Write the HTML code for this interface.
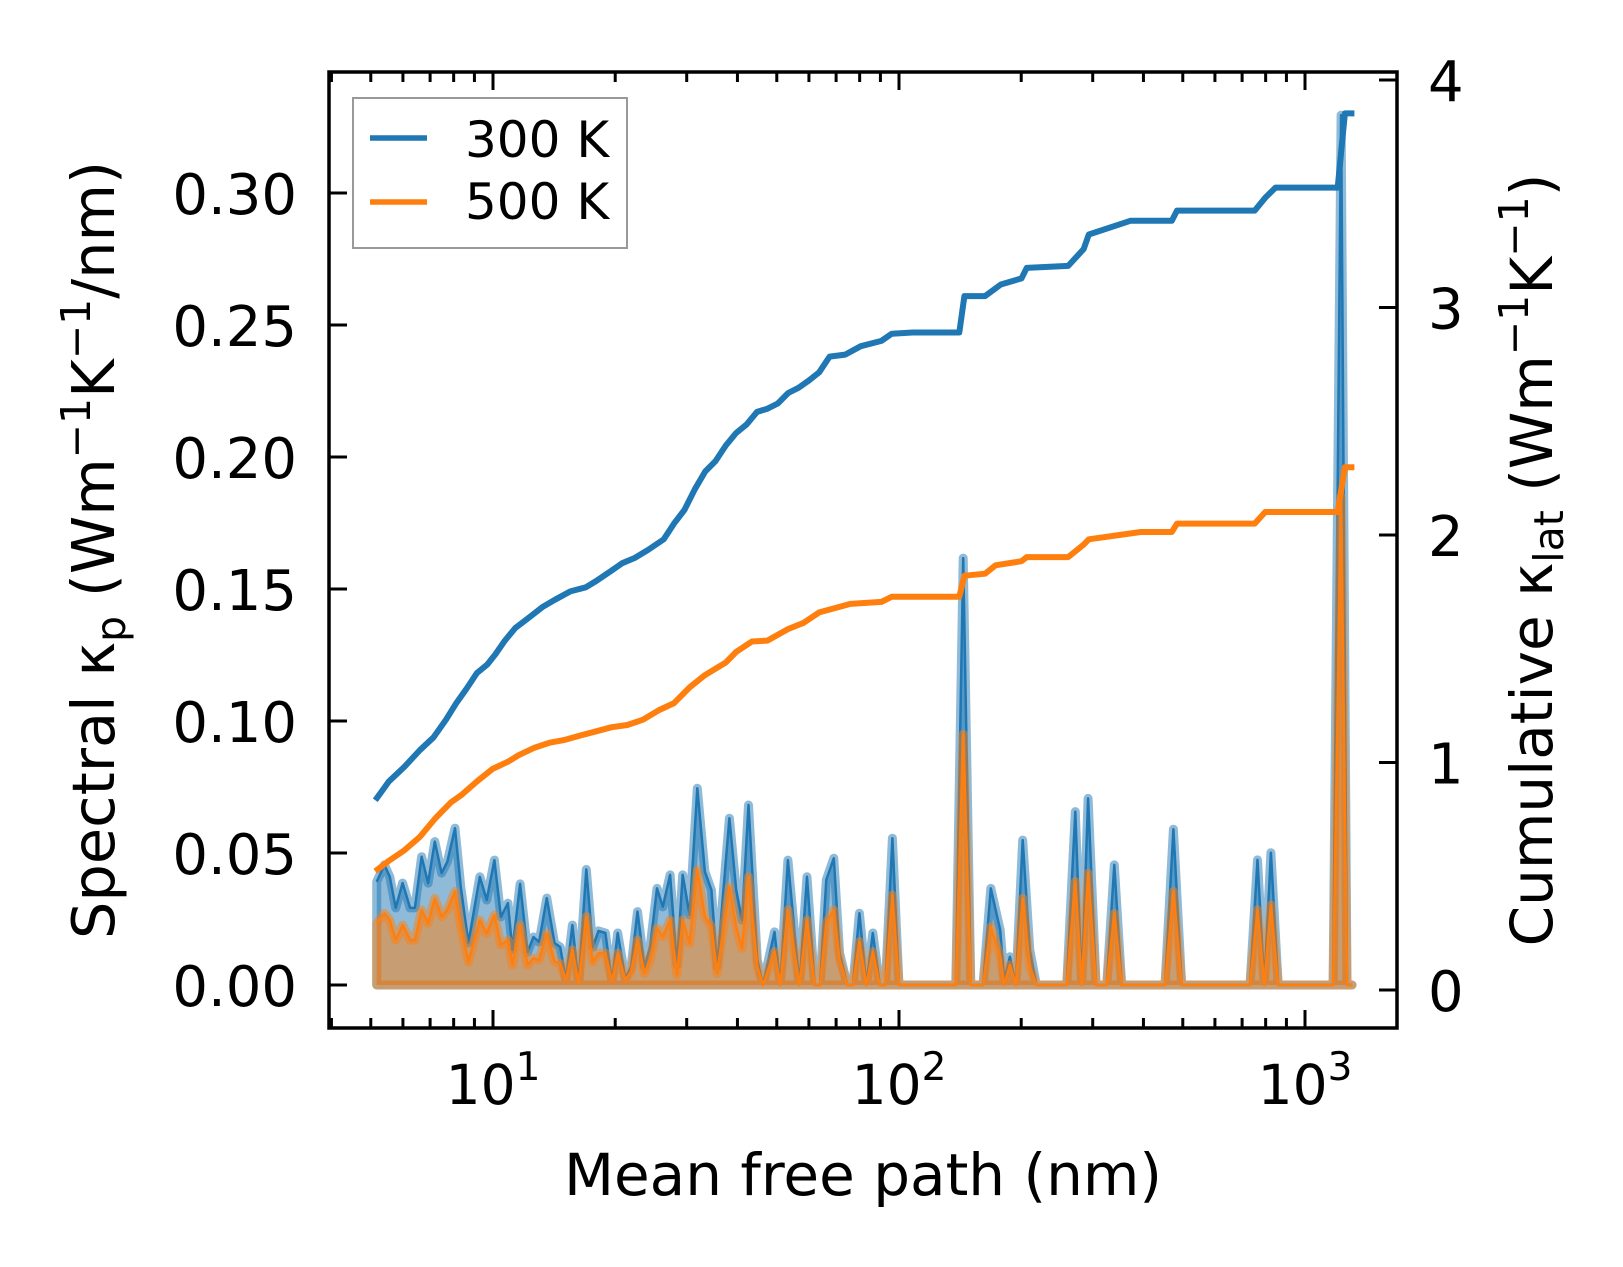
<!DOCTYPE html>
<html><head><meta charset="utf-8"><style>
html,body{margin:0;padding:0;background:#fff;}
svg{display:block;font-family:"DejaVu Sans","Liberation Sans",sans-serif;}
</style></head><body>
<svg id="chart" width="1623" height="1267" viewBox="0 0 1623 1267" xmlns="http://www.w3.org/2000/svg">
<rect width="1623" height="1267" fill="#fff"/>
<g id="plot"></g>
<g id="axes"></g>
</svg>
<script>
// ---- data ----
const specX = [5.17,5.40,5.57,5.76,5.99,6.25,6.42,6.67,6.92,7.19,7.47,7.72,8.06,8.33,8.70,9.28,9.65,10.08,10.46,10.88,11.16,11.66,12.17,12.58,12.99,13.57,14.17,14.64,15.12,15.69,16.25,16.97,17.61,18.19,18.92,19.63,20.28,21.18,21.88,22.70,23.61,24.38,25.35,26.19,27.30,28.38,29.33,30.50,31.85,33.26,34.51,35.65,38.21,39.73,41.05,42.60,44.77,46.25,49.36,51.00,53.26,56.84,59.36,62.0,63.9,66.2,69.1,71.4,74.6,77.0,79.9,83.1,86.2,89.7,92.6,96.3,100,138,143.9,150.3,161,168.3,177.5,181.6,187.6,194,201.7,210,218,258.8,271.8,281.8,292.2,305.8,324.8,339,353.6,452,474,497,732,764,794,824,859,1173,1227,1269,1306];
const spec300 = [0.0391,0.0455,0.0410,0.0292,0.0386,0.0292,0.0292,0.0486,0.0386,0.0543,0.0424,0.0467,0.0594,0.0371,0.0159,0.0410,0.0322,0.0473,0.0258,0.0310,0.0133,0.0383,0.0125,0.0182,0.0163,0.0329,0.0159,0.0144,0.0019,0.0227,0.0006,0.0438,0.0144,0.0205,0.0197,0.0010,0.0197,0.0025,0.0069,0.0278,0.0069,0.0144,0.0366,0.0296,0.0417,0.0076,0.0417,0.0265,0.0745,0.0429,0.0360,0.0069,0.0632,0.0360,0.0246,0.0682,0.0095,0,0.0201,0,0.0473,0,0.0410,0,0,0.0398,0.0480,0.0121,0,0,0.0272,0,0.0197,0,0,0.0556,0,0,0.1617,0,0,0.0366,0.0208,0.0019,0.0107,0,0.0549,0.0133,0,0,0.0657,0,0.0707,0,0,0.0455,0,0,0.0590,0,0,0.0474,0,0.0501,0,0,0.3295,0,0];
const spec500 = [0.0234,0.0271,0.0246,0.0170,0.0227,0.0170,0.0170,0.0284,0.0234,0.0328,0.0259,0.0284,0.0354,0.0220,0.0088,0.0246,0.0195,0.0265,0.0152,0.0170,0.0076,0.0227,0.0076,0.0101,0.0095,0.0195,0.0088,0.0082,0.0019,0.0133,0.0006,0.0259,0.0088,0.0120,0.0120,0.0013,0.0120,0.0019,0.0051,0.0170,0.0044,0.0095,0.0215,0.0183,0.0246,0.0038,0.0246,0.0158,0.0436,0.0259,0.0221,0.0044,0.0372,0.0221,0.0139,0.0410,0.0069,0,0.0126,0,0.0284,0,0.0246,0,0,0.0234,0.0284,0.0095,0,0,0.0164,0,0.0126,0,0,0.0341,0,0,0.0950,0,0,0.0221,0.0107,0,0.0076,0,0.0328,0.0069,0,0,0.0392,0,0.0423,0,0,0.0271,0,0,0.0354,0,0,0.0284,0,0.0303,0,0,0.1850,0,0];
const cum300X = [5.13,5.54,6.05,6.61,7.13,7.66,8.12,8.61,9.13,9.69,10.15,10.70,11.35,12.26,13.23,14.20,15.50,16.93,17.96,19.61,20.81,22.33,24.11,26.33,27.92,29.61,31.41,33.31,35.33,37.46,39.73,42.14,44.70,47.41,50.28,53.33,56.56,59.98,63.61,67.47,73.70,80.5,90.5,96.0,108.0,140.8,144.9,163.0,178.1,200.3,206.3,261.0,285.0,293.5,371.4,469.8,483.8,752,798,846,1204,1254,1323];
const cum300 = [0.834,0.917,0.981,1.055,1.110,1.188,1.261,1.325,1.394,1.431,1.477,1.536,1.591,1.637,1.683,1.715,1.752,1.770,1.798,1.844,1.876,1.899,1.935,1.981,2.050,2.110,2.201,2.279,2.325,2.394,2.449,2.486,2.541,2.555,2.578,2.624,2.647,2.679,2.715,2.784,2.793,2.830,2.853,2.885,2.890,2.890,3.050,3.050,3.101,3.128,3.174,3.183,3.257,3.321,3.381,3.381,3.426,3.426,3.482,3.527,3.527,3.853,3.853];
const cum500X = [5.13,5.54,6.05,6.61,7.22,7.88,8.36,9.13,9.98,10.90,11.56,12.62,13.79,15.06,16.45,17.96,19.61,21.43,23.40,25.56,27.92,30.50,33.31,37.46,39.73,43.41,47.41,53.33,58.24,63.61,75.9,90.5,96.0,140.8,144.9,163.0,172.9,200.3,206.3,261.0,285.0,293.5,393.9,469.8,483.8,752,798,1204,1254,1323];
const cum500 = [0.522,0.568,0.614,0.674,0.756,0.825,0.857,0.917,0.972,1.004,1.032,1.064,1.087,1.100,1.119,1.137,1.155,1.165,1.188,1.229,1.261,1.330,1.385,1.440,1.486,1.532,1.536,1.587,1.614,1.660,1.697,1.706,1.729,1.729,1.821,1.830,1.867,1.885,1.903,1.903,1.958,1.981,2.013,2.013,2.050,2.050,2.101,2.101,2.298,2.298];
const xMajor = [10,100,1000];
const xMajorExp = ["1","2","3"];
const yLeftTicks = [0,0.05,0.10,0.15,0.20,0.25,0.30];
const yLeftLabels = ["0.00","0.05","0.10","0.15","0.20","0.25","0.30"];
const yRightTicks = [0,1,2,3,4];
const yRightLabels = ["0","1","2","3","4"];

// ---- scales ----
const L=329,R=1397,T=72,B=1028;
const px = v => 493 + (Math.log10(v)-1)*406;
const pyL = v => 985 - v*2640;
const pyR = v => 990 - v*227.5;
const NS="http://www.w3.org/2000/svg";
function mk(tag, attrs, parent){const e=document.createElementNS(NS,tag);for(const k in attrs)e.setAttribute(k,attrs[k]);parent.appendChild(e);return e;}
const plot=document.getElementById('plot'), axes=document.getElementById('axes');
const C0="#1f77b4", C1="#ff7f0e";

function areaPath(xs, ys){
  let d="M"+px(xs[0]).toFixed(1)+","+pyL(0).toFixed(1);
  for(let i=0;i<xs.length;i++) d+=" L"+px(xs[i]).toFixed(1)+","+pyL(ys[i]).toFixed(1);
  d+=" L"+px(xs[xs.length-1]).toFixed(1)+","+pyL(0).toFixed(1)+" Z";
  return d;
}
function linePath(xs, ys, f){
  let d="";
  for(let i=0;i<xs.length;i++) d+=(i?" L":"M")+px(xs[i]).toFixed(1)+","+f(ys[i]).toFixed(1);
  return d;
}
const series=[[spec300,C0,'300'],[spec500,C1,'500']];
series.forEach(s=>{
  const a=mk('path',{d:areaPath(specX,s[0]),fill:s[1],'fill-opacity':0.5,stroke:s[1],'stroke-opacity':0.5,'stroke-width':9,'stroke-linejoin':'round'},plot);
  
  
  const l=mk('path',{d:linePath(specX,s[0],pyL),fill:'none',stroke:s[1],'stroke-width':2.5,'stroke-linejoin':'round'},plot);
  
  
});
const c3=mk('path',{d:linePath(cum300X,cum300,pyR),fill:'none',stroke:C0,'stroke-width':6,'stroke-linejoin':'round'},plot);


const c5=mk('path',{d:linePath(cum500X,cum500,pyR),fill:'none',stroke:C1,'stroke-width':6,'stroke-linejoin':'round'},plot);



// ---- axes ----
const frame=mk('rect',{x:L,y:T,width:R-L,height:B-T,fill:'none',stroke:'#000','stroke-width':3.5},axes);


for(let d=0; d<=3; d++){
  for(let m=1;m<10;m++){
    const v=m*Math.pow(10,d);
    const x=px(v);
    if(x<L+2||x>R-2) continue;
    const len = m===1?18:10;
    const t1=mk('line',{x1:x,y1:B,x2:x,y2:B-len,stroke:'#000','stroke-width':3},axes);
    
    
    const t2=mk('line',{x1:x,y1:T,x2:x,y2:T+len,stroke:'#000','stroke-width':3},axes);
    
    
  }
}
xMajor.forEach((v,i)=>{
  const t=mk('text',{x:px(v),y:1104,'font-size':55,'text-anchor':'middle',fill:'#000'},axes);
  
  
  t.innerHTML='10<tspan dy="-24" font-size="39">'+xMajorExp[i]+'</tspan>';
});
yLeftTicks.forEach((v,i)=>{
  const y=pyL(v);
  const t=mk('line',{x1:L,y1:y,x2:L+18,y2:y,stroke:'#000','stroke-width':3},axes);
  
  
  const tx=mk('text',{x:297,y:y+21,'font-size':56,'text-anchor':'end',fill:'#000'},axes);
  
  
  tx.textContent=yLeftLabels[i];
});
yRightTicks.forEach((v,i)=>{
  const y=pyR(v);
  const t=mk('line',{x1:R,y1:y,x2:R-18,y2:y,stroke:'#000','stroke-width':3},axes);
  
  
  const tx=mk('text',{x:1428,y:y+21,'font-size':56,'text-anchor':'start',fill:'#000'},axes);
  
  
  tx.textContent=yRightLabels[i];
});
</script>
<svg style="position:absolute;left:0;top:0" width="1623" height="1267" viewBox="0 0 1623 1267" xmlns="http://www.w3.org/2000/svg" font-family="DejaVu Sans, Liberation Sans, sans-serif">
<text x="863" y="1195" font-size="58" text-anchor="middle">Mean free path (nm)</text>
<text transform="translate(114,550) rotate(-90)" font-size="59" text-anchor="middle">Spectral κ<tspan dy="11" font-size="41">p</tspan><tspan dy="-11"> (Wm</tspan><tspan dy="-24" font-size="41">−1</tspan><tspan dy="24">K</tspan><tspan dy="-24" font-size="41">−1</tspan><tspan dy="24">/nm)</tspan></text>
<text transform="translate(1552,560) rotate(-90)" font-size="58" text-anchor="middle">Cumulative κ<tspan dy="11" font-size="41">lat</tspan><tspan dy="-11"> (Wm</tspan><tspan dy="-24" font-size="41">−1</tspan><tspan dy="24">K</tspan><tspan dy="-24" font-size="41">−1</tspan><tspan dy="24">)</tspan></text>
<g>
<rect x="353" y="98" width="274" height="150" fill="#fff" fill-opacity="0.8" stroke="#999" stroke-width="2"/>
<line x1="370" y1="138" x2="427" y2="138" stroke="#1f77b4" stroke-width="5.5"/>
<text x="465" y="157" font-size="50">300 K</text>
<line x1="370" y1="202" x2="427" y2="202" stroke="#ff7f0e" stroke-width="5.5"/>
<text x="465" y="219" font-size="50">500 K</text>
</g>
</svg>
</body></html>
